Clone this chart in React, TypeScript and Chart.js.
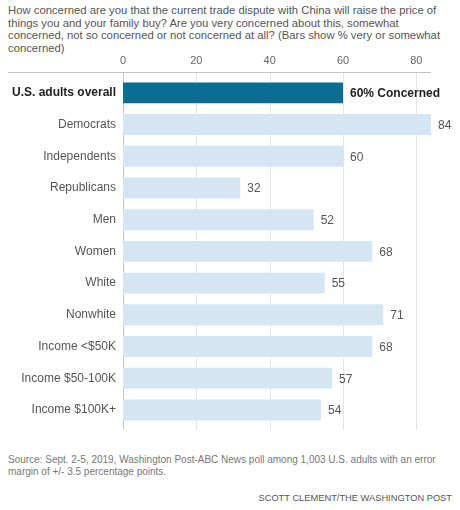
import React, { useEffect, useRef } from "react";
import { Chart, registerables } from "chart.js";

Chart.register(...registerables);

const categories = [
  "U.S. adults overall",
  "Democrats",
  "Independents",
  "Republicans",
  "Men",
  "Women",
  "White",
  "Nonwhite",
  "Income <$50K",
  "Income $50-100K",
  "Income $100K+",
];
const concernedValues = [60, 84, 60, 32, 52, 68, 55, 71, 68, 57, 54];
const xTickValues = [0, 20, 40, 60, 80];
const xMax = 84;

const titleLines = [
  "How concerned are you that the current trade dispute with China will raise the price of",
  "things you and your family buy? Are you very concerned about this, somewhat",
  "concerned, not so concerned or not concerned at all? (Bars show % very or somewhat",
  "concerned)",
];
const sourceLines = [
  "Source: Sept. 2-5, 2019, Washington Post-ABC News poll among 1,003 U.S. adults with an error",
  "margin of +/- 3.5 percentage points.",
];
const creditText = "SCOTT CLEMENT/THE WASHINGTON POST";

const FONT = "'Liberation Sans', Arial, sans-serif";
const DARK = "#0a6d91";
const LIGHT = "#d4e6f1";
const GRID = "#e4e4e4";
const AXIS = "#c4c4c4";

const CANVAS_TOP = 50;

const overlayPlugin = {
  id: "overlay",
  beforeDatasetsDraw(chart: any) {
    const { ctx, chartArea } = chart;
    const xs = chart.scales.x;
    const top = chartArea.top - 5;
    const bottom = chartArea.bottom + 4;
    ctx.save();
    ctx.lineWidth = 1;
    xTickValues.forEach((v) => {
      const px = Math.round(xs.getPixelForValue(v)) + 0.5;
      ctx.strokeStyle = v === 0 ? AXIS : GRID;
      ctx.beginPath();
      ctx.moveTo(px, top);
      ctx.lineTo(px, bottom);
      ctx.stroke();
    });
    ctx.strokeStyle = AXIS;
    ctx.beginPath();
    ctx.moveTo(8, Math.round(top) + 0.5);
    ctx.lineTo(chartArea.right, Math.round(top) + 0.5);
    ctx.stroke();
    ctx.restore();
  },
  afterDatasetsDraw(chart: any) {
    const { ctx } = chart;
    const meta = chart.getDatasetMeta(0);
    ctx.save();
    ctx.textBaseline = "middle";
    ctx.textAlign = "left";
    meta.data.forEach((bar: any, i: number) => {
      const v = concernedValues[i];
      if (i === 0) {
        ctx.font = `bold 12px ${FONT}`;
        ctx.fillStyle = "#222";
        ctx.fillText(`${v}% Concerned`, bar.x + 7, bar.y + 1);
      } else {
        ctx.font = `12px ${FONT}`;
        ctx.fillStyle = "#555";
        ctx.fillText(`${v}`, bar.x + 7, bar.y + 1);
      }
    });
    ctx.restore();
  },
};

export default function App() {
  const ref = useRef<HTMLCanvasElement>(null);
  useEffect(() => {
    if (!ref.current) return;
    const chart = new Chart(ref.current, {
      type: "bar",
      data: {
        labels: categories,
        datasets: [
          {
            data: concernedValues,
            backgroundColor: concernedValues.map((_, i) => (i === 0 ? DARK : LIGHT)),
            borderWidth: 0,
            barPercentage: 1,
            categoryPercentage: 0.66,
          },
        ],
      },
      options: {
        indexAxis: "y",
        animation: false,
        responsive: false,
        maintainAspectRatio: false,
        layout: { padding: { top: 0, right: 29, bottom: 11, left: 0 } },
        plugins: {
          legend: { display: false },
          tooltip: { enabled: false },
        },
        scales: {
          x: {
            position: "top",
            min: 0,
            max: xMax,
            grid: { display: false, drawTicks: false },
            border: { display: false },
            afterBuildTicks: (scale: any) => {
              scale.ticks = xTickValues.map((v) => ({ value: v }));
            },
            afterFit: (scale: any) => {
              scale.height = 27;
            },
            ticks: {
              padding: 9,
              color: "#666",
              font: { family: FONT, size: 11 },
              maxRotation: 0,
            },
          },
          y: {
            grid: { display: false, drawTicks: false },
            border: { display: false },
            afterFit: (scale: any) => {
              scale.width = 123;
            },
            ticks: {
              padding: 7,
              color: (c: any) => (c.index === 0 ? "#222" : "#555"),
              font: (c: any) =>
                c.index === 0
                  ? { family: FONT, size: 12, weight: "bold" }
                  : { family: FONT, size: 12 },
            },
          },
        },
      },
      plugins: [overlayPlugin],
    });
    return () => chart.destroy();
  }, []);

  return (
    <div
      style={{
        position: "absolute",
        left: 0,
        top: 0,
        width: 460,
        height: 510,
        fontFamily: FONT,
        background: "#fff",
      }}
    >
      <div
        style={{
          position: "absolute",
          left: 8,
          top: 4,
          fontSize: 11.3,
          lineHeight: "12.5px",
          color: "#555",
          whiteSpace: "nowrap",
        }}
      >
        {titleLines.map((l, i) => (
          <div key={i}>{l}</div>
        ))}
      </div>
      <canvas
        ref={ref}
        width={460}
        height={390}
        style={{ position: "absolute", left: 0, top: CANVAS_TOP, width: 460, height: 390 }}
      />
      <div
        style={{
          position: "absolute",
          left: 8,
          top: 454,
          fontSize: 10,
          lineHeight: "11.5px",
          color: "#777",
          whiteSpace: "nowrap",
        }}
      >
        {sourceLines.map((l, i) => (
          <div key={i}>{l}</div>
        ))}
      </div>
      <div
        style={{
          position: "absolute",
          right: 8,
          top: 492,
          fontSize: 9.3,
          lineHeight: "12px",
          color: "#555",
          whiteSpace: "nowrap",
        }}
      >
        {creditText}
      </div>
    </div>
  );
}
